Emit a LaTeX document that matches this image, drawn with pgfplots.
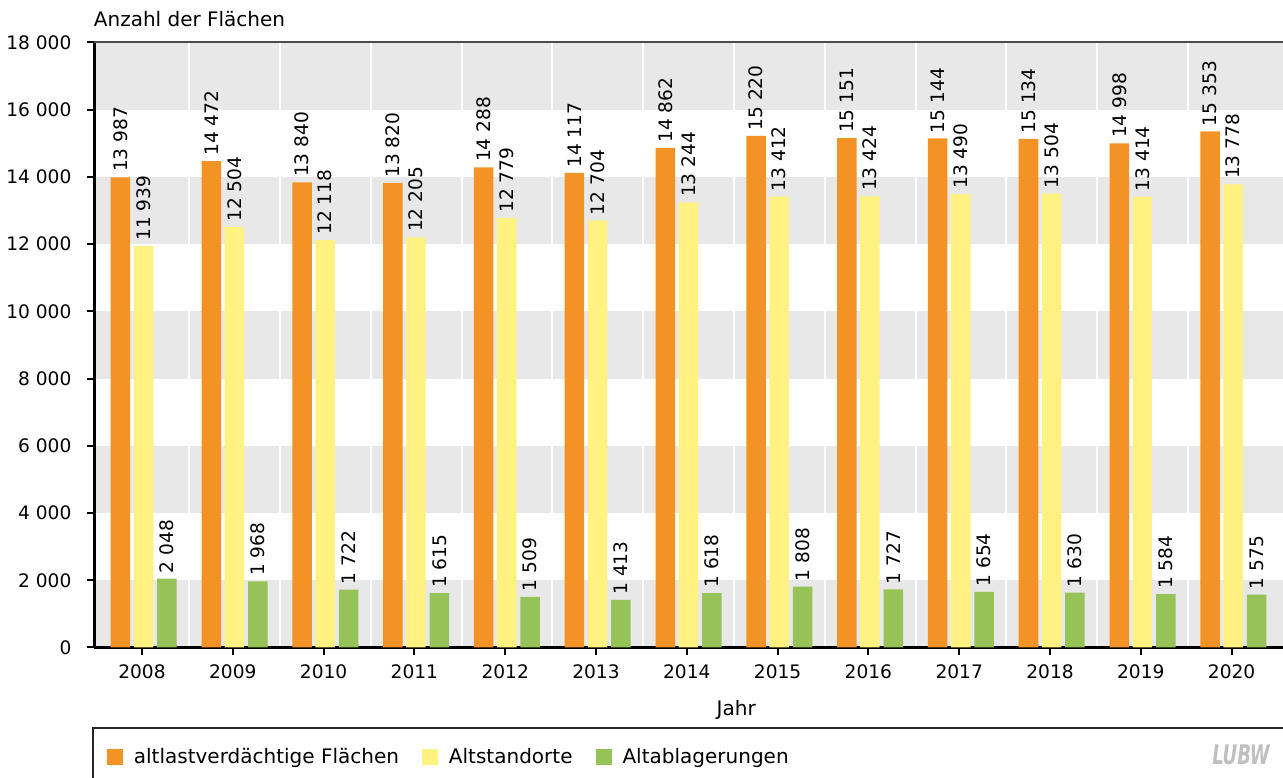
\documentclass[border=0pt]{standalone}
\usepackage{fontspec}
\setmainfont{DejaVu Sans}
\newfontfamily\logofont{DejaVu Sans Condensed}
\usepackage{pgfplots}
\pgfplotsset{compat=1.18}
\usetikzlibrary{calc}
\definecolor{cOrange}{HTML}{F39325}
\definecolor{cYellow}{HTML}{FFF280}
\definecolor{cGreen}{HTML}{95C357}
\definecolor{cBand}{HTML}{E8E8E8}
\newcommand{\numfont}{\fontsize{9.3}{10}\selectfont}
\newcommand{\txtfont}{\fontsize{10}{11}\selectfont}
\begin{document}
\begin{tikzpicture}
\begin{axis}[
  set layers,
  clip mode=individual,
  scale only axis,
  width=594.25pt, height=302.5pt,
  xmin=-0.523, xmax=12.566,
  ymin=0, ymax=18000,
  ybar, bar width=0.215,
  axis x line*=bottom, axis y line*=left,
  axis line style={-, line width=1.2pt, black},
  every outer x axis line/.append style={-},
  every outer y axis line/.append style={-},
  ytick={0,2000,...,18000},
  xtick={0,...,12},
  xticklabels={2008,2009,2010,2011,2012,2013,2014,2015,2016,2017,2018,2019,2020},
  tick align=outside, major tick length=4pt,
  major tick style={black, line width=1pt},
  minor xtick={0.52,1.52,...,11.52},
  minor tick length=0pt,
  xminorgrids, minor x grid style={white, line width=1pt},
  scaled y ticks=false,
  /pgf/number format/1000 sep={\ },
  /pgf/number format/assume math mode=true,
  ticklabel style={font=\numfont},
  yticklabel style={xshift=-4pt},
  xticklabel style={yshift=-1.2pt},
  nodes near coords,
  every node near coord/.append style={rotate=90, anchor=west, font=\numfont, text=black, inner sep=2.5pt},
  legend style={at={(rel axis cs:0,0)}, anchor=north west, yshift=-40.25pt,
    draw=none, fill=none, inner xsep=6pt, inner ysep=8pt, font=\txtfont},
  legend columns=3,
  legend cell align=left,
  /tikz/every odd column/.append style={column sep=3.5pt},
  /tikz/every even column/.append style={column sep=9.5pt},
]
\begin{pgfonlayer}{axis background}
  \fill[cBand] (axis cs:-0.523,0) rectangle (axis cs:12.566,2000);
  \fill[cBand] (axis cs:-0.523,4000) rectangle (axis cs:12.566,6000);
  \fill[cBand] (axis cs:-0.523,8000) rectangle (axis cs:12.566,10000);
  \fill[cBand] (axis cs:-0.523,12000) rectangle (axis cs:12.566,14000);
  \fill[cBand] (axis cs:-0.523,16000) rectangle (axis cs:12.566,18000);
\end{pgfonlayer}
\addplot[fill=cOrange, draw=none, bar shift=-0.237,
  legend image code/.code={\fill[cOrange] (0pt,-4pt) rectangle (8pt,4pt);}] coordinates {
  (0,13987) (1,14472) (2,13840) (3,13820) (4,14288) (5,14117) (6,14862)
  (7,15220) (8,15151) (9,15144) (10,15134) (11,14998) (12,15353)
};
\addplot[fill=cYellow, draw=none, bar shift=0.017,
  legend image code/.code={\fill[cYellow] (0pt,-4pt) rectangle (8pt,4pt);}] coordinates {
  (0,11939) (1,12504) (2,12118) (3,12205) (4,12779) (5,12704) (6,13244)
  (7,13412) (8,13424) (9,13490) (10,13504) (11,13414) (12,13778)
};
\addplot[fill=cGreen, draw=none, bar shift=0.275,
  legend image code/.code={\fill[cGreen] (0pt,-4pt) rectangle (8pt,4pt);}] coordinates {
  (0,2048) (1,1968) (2,1722) (3,1615) (4,1509) (5,1413) (6,1618)
  (7,1808) (8,1727) (9,1654) (10,1630) (11,1584) (12,1575)
};
\legend{altlastverdächtige Flächen, Altstandorte, Altablagerungen}
\draw[line width=1pt, black!70] (rel axis cs:0,1) -- (rel axis cs:1,1);
\node[anchor=base west, inner sep=0pt, font=\txtfont] at ($(rel axis cs:0,1)+(-0.5pt,7.9pt)$) {Anzahl der Flächen};
\node[anchor=base, inner sep=0pt, font=\txtfont] at ($(rel axis cs:0.5,0)+(0,-34pt)$) {Jahr};
\coordinate (bl) at (rel axis cs:0,0);
\coordinate (tr) at (rel axis cs:1,1);
\end{axis}
\draw[line width=0.8pt, black!85] ($(bl)+(-0.8pt,-66pt)$) -- ($(bl)+(-0.8pt,-40.25pt)$) -- ($(bl-|tr)+(0,-40.25pt)$);
\node[font=\logofont\bfseries\itshape, text=black!25, inner sep=0pt] at ($(bl-|tr)+(-21pt,-53.75pt)$) {\scalebox{1}[1.35]{LUBW}};
\pgfresetboundingbox
\path[use as bounding box] ($(bl)+(-47.25pt,-65.25pt)$) rectangle ($(tr)+(0,21.25pt)$);
\end{tikzpicture}
\end{document}
